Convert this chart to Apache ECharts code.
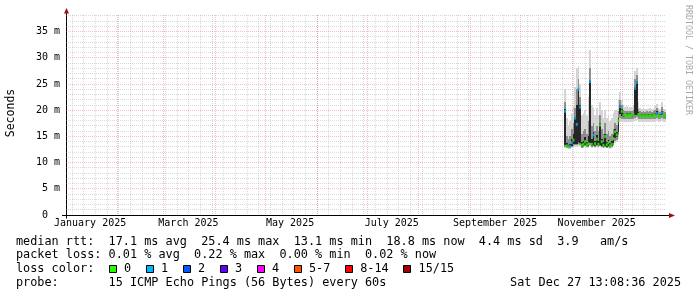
<!DOCTYPE html>
<html><head><meta charset="utf-8">
<script src="https://cdn.jsdelivr.net/npm/echarts@6/dist/echarts.min.js"></script>
<style>html,body{margin:0;padding:0;background:#fff}#c{width:697px;height:297px}</style>
</head><body><div id="c"></div>
<script>
// x values are days since 2025-01-01 00:00
const rangeStartDay = 0.547;   // Jan 1 2025 13:08
const rangeEndDay = 360.547;   // Dec 27 2025 13:08
const yMaxMs = 38.19;
const monthLabels = ['January 2025','March 2025','May 2025','July 2025','September 2025','November 2025'];
const monthLabelDays = [15, 74, 135, 196, 258, 319];
const monthStartDays = [31, 59, 90, 120, 151, 181, 212, 243, 273, 304, 334];
const firstSundayDay = 4;
const yTickValues = [0, 5, 10, 15, 20, 25, 30, 35];

const days = [300,301,302,303,304,305,306,307,308,309,
  310,311,312,313,314,315,316,317,318,319,
  320,321,322,323,324,325,326,327,328,329,
  330,331,332,333,334,335,336,337,338,339,
  340,341,342,343,344,345,346,347,348,349,
  350,351,352,353,354,355,356,357,358,359,360];
const medianMs = [19.8,13.2,13.0,13.1,13.8,14.3,18.5,17.3,24.0,20.6,
  13.3,13.5,14.0,13.4,13.6,25.5,13.5,15.3,13.6,14.5,
  13.5,17.2,14.0,13.3,15.0,13.4,13.8,13.2,13.5,14.6,
  15.9,15.3,18.0,20.7,19.8,19.1,19.0,19.1,19.0,19.1,
  19.0,19.2,24.2,25.3,19.2,19.0,18.9,19.0,18.9,19.0,
  18.9,19.0,18.9,19.0,19.1,19.4,19.0,18.9,19.5,19.0,18.8];
const lostPings = [1,0,0,1,1,0,1,1,1,1,
  0,0,0,0,0,1,0,1,0,0,
  0,0,0,0,0,0,0,0,0,0,
  0,0,0,1,0,0,0,0,0,0,
  0,0,1,1,0,0,0,0,0,0,
  0,0,0,0,0,1,0,0,1,0,0];
const smokeLo = [12.8,12.7,12.6,12.6,12.8,12.9,13.0,13.0,13.2,13.1,
  12.7,12.8,12.9,12.7,12.8,13.1,12.8,12.9,12.8,12.9,
  12.8,12.9,12.8,12.7,12.8,12.7,12.7,12.6,12.7,13.1,
  13.8,14.0,14.6,17.8,17.8,17.7,17.7,17.8,17.7,17.8,
  17.7,17.8,18.0,18.1,17.8,17.8,17.7,17.8,17.7,17.8,
  17.7,17.8,17.7,17.8,17.8,17.9,17.8,17.7,17.9,17.8,17.7];
const midLo = [13.0,12.9,12.8,12.8,13.0,13.2,13.3,13.3,13.5,13.4,
  12.9,13.0,13.1,12.9,13.0,13.4,13.0,13.1,13.0,13.1,
  13.0,13.1,13.0,12.9,13.0,12.9,12.9,12.8,12.9,13.4,
  14.2,14.4,15.2,18.5,18.4,18.3,18.3,18.4,18.3,18.4,
  18.3,18.4,18.6,18.7,18.4,18.4,18.3,18.4,18.3,18.4,
  18.3,18.4,18.3,18.4,18.4,18.5,18.4,18.3,18.5,18.4,18.3];
const coreLo = [13.3,13.0,12.9,12.9,13.2,13.5,13.6,13.6,13.9,13.7,
  13.0,13.2,13.3,13.1,13.2,13.8,13.1,13.3,13.1,13.3,
  13.1,13.4,13.2,13.0,13.2,13.0,13.1,12.9,13.1,13.7,
  14.7,14.8,15.8,19.2,18.9,18.8,18.8,18.9,18.8,18.9,
  18.8,18.9,19.0,19.1,18.9,18.8,18.7,18.8,18.7,18.8,
  18.7,18.8,18.7,18.8,18.9,19.0,18.8,18.7,19.0,18.8,18.6];
const coreHi = [20.2,13.8,13.4,13.6,14.5,15.5,18.8,21.0,24.3,21.0,
  13.9,14.2,14.8,14.0,15.0,25.8,14.5,15.8,14.2,15.2,
  14.2,17.6,14.6,13.9,15.5,14.0,14.4,13.7,14.1,15.2,
  16.4,15.9,18.5,21.0,20.2,19.4,19.3,19.4,19.3,19.4,
  19.3,19.5,24.5,25.6,19.6,19.3,19.2,19.3,19.2,19.3,
  19.2,19.3,19.2,19.3,19.4,19.8,19.3,19.2,19.9,19.3,19.1];
const midHi = [21.5,15.0,14.5,15.0,16.5,17.5,20.5,24.0,26.0,22.5,
  15.5,16.0,16.5,15.5,18.0,28.0,17.0,17.5,16.0,17.0,
  16.0,19.0,16.5,15.5,17.5,15.5,16.0,15.0,15.5,16.5,
  17.5,17.2,19.8,22.0,21.0,20.0,19.8,19.9,19.8,19.9,
  19.8,20.1,26.0,26.8,20.3,19.8,19.7,19.8,19.7,19.8,
  19.7,19.8,19.7,19.8,20.0,20.4,19.8,19.7,20.6,19.8,19.6];
const smokeHi = [24.0,18.5,17.0,18.0,19.5,21.0,24.5,28.0,28.5,25.0,
  19.0,19.5,20.0,19.0,22.5,31.5,21.0,20.5,19.0,20.5,
  19.0,21.5,20.0,18.5,20.0,18.5,19.0,18.0,18.5,19.5,
  20.0,20.0,22.0,23.5,22.0,21.0,20.6,20.8,20.5,20.7,
  20.6,21.0,27.5,28.0,21.5,20.4,20.3,20.4,20.2,20.3,
  20.2,20.4,20.2,20.3,20.8,21.2,20.4,20.2,21.5,20.3,20.2];

const lossBuckets = ['0','1','2','3','4','5-7','8-14','15/15'];
const lossBucketMax = [0, 1, 2, 3, 4, 7, 14, 15];
const lossColors = ['#26ff00','#00b8ff','#0059ff','#5e00ff','#ff00ff','#ff5500','#ff0000','#a10000'];

const rttStats = ['17.1 ms avg', '25.4 ms max', '13.1 ms min', '18.8 ms now', '4.4 ms sd', '3.9   am/s'];
const lossStats = ['0.01 % avg', '0.22 % max', '0.00 % min', '0.02 % now'];
const probeText = '15 ICMP Echo Pings (56 Bytes) every 60s';
const stampText = 'Sat Dec 27 13:08:36 2025';

const MONO = "'DejaVu Sans Mono', monospace";
const LFS = 11.83;
const G = {left: 66, top: 15, width: 600, height: 200};
const smokeColors = ['#d4d4d4', '#8e8e8e', '#262626', '#8e8e8e', '#d4d4d4'];

const chart = echarts.init(document.getElementById('c'), null, {renderer: 'canvas'});

// smoke: one item per day with the six band edges
const smokeData = days.map((d, i) => [d, smokeLo[i], midLo[i], coreLo[i], coreHi[i], midHi[i], smokeHi[i]]);
const smokeSeries = {
  type: 'custom', z: 3, silent: true,
  encode: {x: 0, y: [1, 2, 3, 4, 5, 6]},
  data: smokeData,
  renderItem(params, api) {
    const d = api.value(0);
    const x0 = Math.round(api.coord([d - 0.5, 0])[0]);
    const x1 = Math.round(api.coord([d + 0.5, 0])[0]);
    const children = [];
    for (let b = 0; b < 5; b++) {
      const yl = Math.round(api.coord([d, api.value(b + 1)])[1]);
      const yh = Math.round(api.coord([d, api.value(b + 2)])[1]);
      children.push({type: 'rect', shape: {x: x0, y: yh, width: Math.max(1, x1 - x0), height: Math.max(1, yl - yh)},
        style: {fill: smokeColors[b]}});
    }
    return {type: 'group', children};
  }
};

function bucketOf(n) { return lossBucketMax.findIndex(m => n <= m); }
const medianSeries = lossBuckets.map((b, bi) => ({
  type: 'scatter', symbol: 'rect', symbolSize: [2, 3], z: 5, silent: true,
  itemStyle: {color: lossColors[bi]},
  data: days.map((d, i) => bucketOf(lostPings[i]) === bi ? [d, medianMs[i]] : null).filter(Boolean)
}));

// grid lines: [kind, value]  kind 0 weekly, 1 monthly, 2 minor y, 3 major y
const gridItems = [];
for (let d = firstSundayDay; d < rangeEndDay; d += 7) if (d > rangeStartDay) gridItems.push([0, d]);
for (let v = 1; v < yMaxMs; v++) if (v % 5) gridItems.push([2, v]);
monthStartDays.forEach(d => gridItems.push([1, d]));
yTickValues.forEach(v => { if (v) gridItems.push([3, v]); });
const gridSeries = {
  type: 'custom', z: 1, silent: true, clip: false,
  encode: {x: 1, y: 1},
  data: gridItems,
  renderItem(params, api) {
    const kind = api.value(0), v = api.value(1);
    const cs = params.coordSys;
    const red = kind === 1 || kind === 3;
    const style = {stroke: red ? 'rgba(230,70,70,0.34)' : 'rgba(150,150,150,0.36)', lineWidth: 1, lineDash: [1, 1], fill: null};
    if (kind <= 1) {
      const x = Math.round(api.coord([v, 0])[0]) + 0.5;
      return {type: 'line', shape: {x1: x, y1: cs.y, x2: x, y2: cs.y + cs.height}, style};
    }
    const y = Math.floor(api.coord([rangeStartDay, v])[1]) + 0.5;
    return {type: 'line', shape: {x1: cs.x, y1: y, x2: cs.x + cs.width, y2: y}, style};
  }
};

const graphics = [];
const txt = (x, y, text, extra) => Object.assign({type: 'text', x, y, silent: true,
  style: Object.assign({text, font: LFS + 'px ' + MONO, fill: '#000', align: 'left', verticalAlign: 'middle'}, extra || {})});
graphics.push(txt(16, 241.5, 'median rtt:  ' + rttStats.join('  ')));
graphics.push(txt(16, 255, 'packet loss: ' + lossStats.join('  ')));
graphics.push(txt(16, 269, 'loss color:'));
graphics.push(txt(16, 282.7, 'probe:       ' + probeText));
graphics.push(txt(681, 282.7, stampText, {align: 'right'}));
let bx = 108.7;
lossBuckets.forEach((b, i) => {
  graphics.push({type: 'rect', silent: true, shape: {x: Math.round(bx) + 0.5, y: 265.5, width: 7, height: 7},
    style: {fill: lossColors[i], stroke: '#000', lineWidth: 1}});
  graphics.push(txt(bx + 15.3, 269, b));
  bx += 37 + (b.length - 1) * 7.12;
});
// axis title and watermark
graphics.push({type: 'text', x: 11, y: 113, rotation: Math.PI / 2, silent: true,
  style: {text: 'Seconds', font: '11.5px ' + MONO, fill: '#000', align: 'center', verticalAlign: 'middle'}});
graphics.push({type: 'text', x: 688, y: 5, rotation: -Math.PI / 2, silent: true,
  style: {text: 'RRDTOOL / TOBI OETIKER', font: '8.3px ' + MONO, fill: '#a8a8a8', align: 'left', verticalAlign: 'middle'}});
// axis extensions + arrows
const ax = G.left + 0.5, ay = G.top + G.height + 0.5, rx = G.left + G.width;
graphics.push({type: 'line', silent: true, shape: {x1: ax, y1: G.top, x2: ax, y2: G.top - 2}, style: {stroke: '#000', lineWidth: 1}});
graphics.push({type: 'line', silent: true, shape: {x1: G.left - 4, y1: ay, x2: G.left, y2: ay}, style: {stroke: '#000', lineWidth: 1}});
graphics.push({type: 'line', silent: true, shape: {x1: ax, y1: ay, x2: ax, y2: ay + 3}, style: {stroke: '#000', lineWidth: 1}});
graphics.push({type: 'line', silent: true, shape: {x1: rx, y1: ay, x2: rx + 3, y2: ay}, style: {stroke: '#000', lineWidth: 1}});
graphics.push({type: 'polygon', silent: true, shape: {points: [[ax, G.top - 7], [ax - 2.5, G.top - 1.5], [ax + 2.5, G.top - 1.5]]}, style: {fill: '#a01010'}});
graphics.push({type: 'polygon', silent: true, shape: {points: [[rx + 9, ay], [rx + 3, ay - 2.5], [rx + 3, ay + 2.5]]}, style: {fill: '#a01010'}});

chart.setOption({
  animation: false,
  backgroundColor: '#fff',
  grid: {left: G.left, top: G.top, width: G.width, height: G.height, containLabel: false},
  xAxis: {
    type: 'value', min: rangeStartDay, max: rangeEndDay,
    axisLine: {show: true, lineStyle: {color: '#000', width: 1}},
    axisTick: {show: false}, splitLine: {show: false},
    axisLabel: {customValues: monthLabelDays, margin: 3, color: '#000', fontFamily: MONO, fontSize: 10,
      formatter: v => monthLabels[monthLabelDays.indexOf(Math.round(v))] || ''}
  },
  yAxis: {
    type: 'value', min: 0, max: yMaxMs,
    axisLine: {show: true, lineStyle: {color: '#000', width: 1}},
    axisTick: {show: false}, splitLine: {show: false},
    axisLabel: {customValues: yTickValues, margin: 6, color: '#000', fontFamily: MONO, fontSize: 10,
      formatter: v => v === 0 ? '0  ' : v + ' m'}
  },
  graphic: graphics,
  series: [gridSeries, smokeSeries].concat(medianSeries)
});
</script></body></html>
